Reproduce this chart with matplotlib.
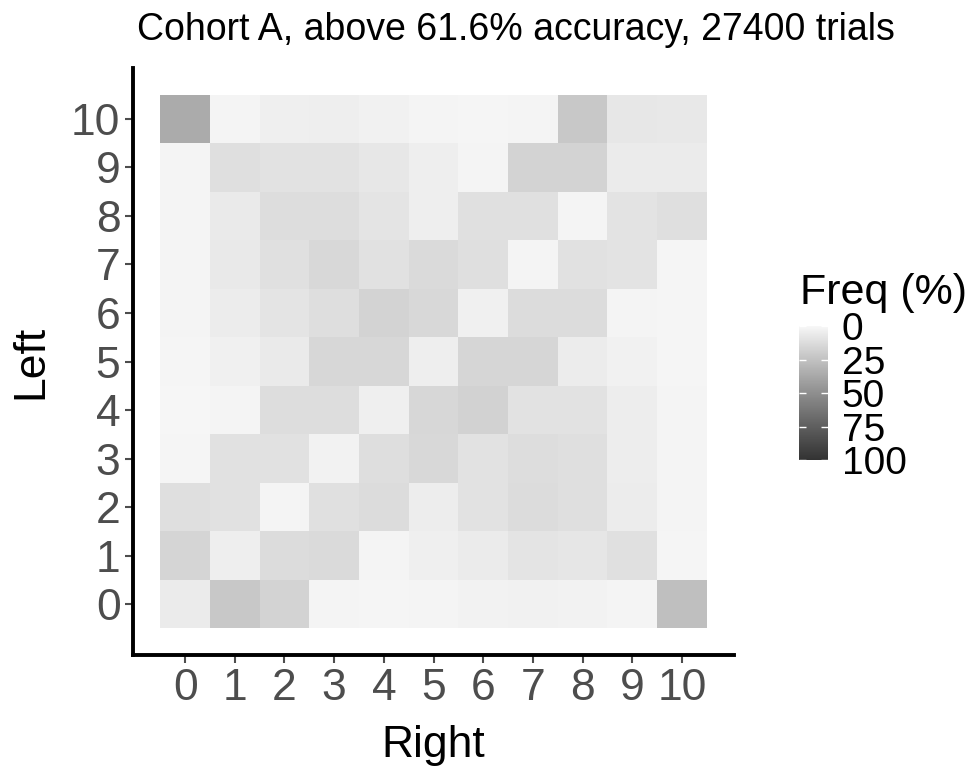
import numpy as np
import matplotlib
matplotlib.use("Agg")
import matplotlib.pyplot as plt
from matplotlib.colors import ListedColormap

plt.rcParams['font.family'] = ['Liberation Sans', 'DejaVu Sans']

# frequency (%) per cell, rows = Left 0..10, columns = Right 0..10
left_vals = list(range(11))
right_vals = list(range(11))
freq = [
    [5.6, 22.1, 16.9, 1.9, 0.9, 1.9, 2.4, 2.8, 2.4, 1.4, 26.3],   # Left 0
    [16.0, 4.2, 12.7, 13.6, 1.4, 3.8, 5.6, 8.9, 8.0, 10.8, 0.9],  # Left 1
    [11.3, 10.3, 1.9, 10.8, 12.7, 4.7, 9.9, 12.7, 11.3, 5.2, 1.4], # Left 2
    [0.9, 10.3, 10.3, 2.4, 11.8, 14.6, 9.9, 12.2, 11.3, 4.7, 1.9], # Left 3
    [0.5, 1.4, 12.2, 12.2, 3.8, 15.0, 17.4, 9.9, 9.9, 4.7, 1.9],   # Left 4
    [0.9, 3.3, 6.1, 15.0, 15.0, 4.2, 15.5, 15.5, 5.2, 2.8, 0.9],   # Left 5
    [1.4, 5.2, 8.9, 11.8, 16.9, 14.1, 3.3, 12.7, 12.7, 1.4, 0.9],  # Left 6
    [1.4, 6.6, 10.8, 14.1, 10.3, 13.6, 11.3, 1.9, 10.3, 9.4, 0.9], # Left 7
    [1.4, 6.1, 12.2, 12.2, 8.9, 4.2, 10.8, 10.8, 1.4, 9.4, 11.3],  # Left 8
    [1.4, 11.3, 9.9, 9.9, 7.5, 4.2, 1.4, 16.5, 16.5, 5.6, 5.6],    # Left 9
    [36.2, 1.9, 3.8, 4.2, 2.8, 1.9, 0.9, 1.9, 22.1, 7.5, 7.0],     # Left 10
]
legend_ticks = [0, 25, 50, 75, 100]
title = "Cohort A, above 61.6% accuracy, 27400 trials"


def grey_lab_ramp(lo, hi, n=256):
    # ggplot-like gradient: interpolate grey in CIELAB lightness
    def to_L(g):
        c = g / 255.0
        lin = ((c + 0.055) / 1.055) ** 2.4 if c > 0.04045 else c / 12.92
        return 116 * lin ** (1 / 3) - 16

    def from_L(L):
        lin = ((L + 16) / 116) ** 3
        c = 1.055 * lin ** (1 / 2.4) - 0.055 if lin > 0.0031308 else 12.92 * lin
        return min(max(c, 0), 1)

    L0, L1 = to_L(lo), to_L(hi)
    cols = []
    for t in np.linspace(0, 1, n):
        g = from_L(L0 + (L1 - L0) * t)
        cols.append((g, g, g))
    return ListedColormap(cols)


cmap = grey_lab_ramp(0xF7, 0x33)

fig = plt.figure(figsize=(9.74, 7.67), dpi=100)
ax = fig.add_axes([133 / 974, 1 - 655 / 767, (734 - 133) / 974, (655 - 68) / 767])

edges_x = np.arange(len(right_vals) + 1) - 0.5
edges_y = np.arange(len(left_vals) + 1) - 0.5
mesh = ax.pcolormesh(edges_x, edges_y, np.array(freq), cmap=cmap, vmin=0, vmax=100)

ax.set_xlim(-1.05, 11.05)
ax.set_ylim(-1.05, 11.05)
ax.set_xticks(right_vals)
ax.set_yticks(left_vals)
ax.set_xticklabels([str(v) for v in right_vals])
ax.set_yticklabels([str(v) for v in left_vals])
ax.tick_params(labelsize=32, colors='#4d4d4d', length=6, width=1.5, pad=3)
for s in ['top', 'right']:
    ax.spines[s].set_visible(False)
for s in ['left', 'bottom']:
    ax.spines[s].set_linewidth(2.8)
    ax.spines[s].set_color('black')
ax.set_xlabel("Right", fontsize=32, labelpad=12)
ax.set_ylabel("Left", fontsize=32, labelpad=14)
fig.text(516 / 974, 1 - 30 / 767, title, fontsize=27, ha='center', va='center')

# legend colourbar
cax = fig.add_axes([799 / 974, 1 - 460 / 767, 29 / 974, (460 - 326) / 767])
cb = fig.colorbar(mesh, cax=cax)
cb.outline.set_visible(False)
cb.set_ticks(legend_ticks)
cb.ax.invert_yaxis()
cb.ax.tick_params(labelsize=28, colors='white', labelcolor='black', length=5,
                  width=1, direction='in', left=True, right=True, pad=10)
fig.text(800 / 974, 1 - 293 / 767, "Freq (%)", fontsize=31, ha='left', va='center')

fig.savefig("out.png", dpi=100)
